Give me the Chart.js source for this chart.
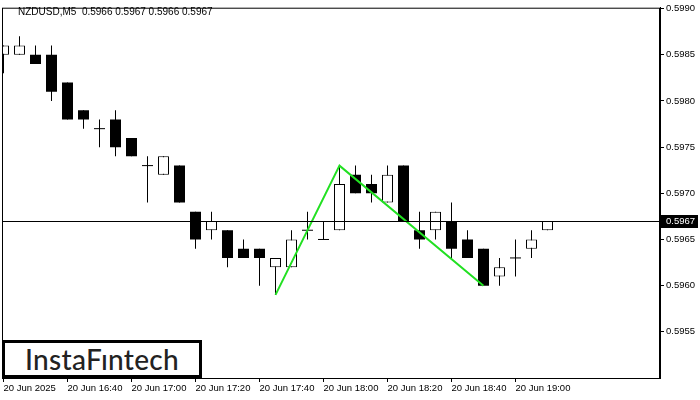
<!DOCTYPE html>
<html>
<head>
<meta charset="utf-8">
<script src="https://cdn.jsdelivr.net/npm/chart.js@4.4.1/dist/chart.umd.min.js"></script>
<style>
  body { margin: 0; background: #fff; }
  #wrap { position: relative; width: 700px; height: 400px; }
  #head { position: absolute; left: 18px; top: 6px; font: 10px "Liberation Sans", Arial, sans-serif; color: #000; white-space: pre; }
  #logo { position: absolute; left: 2px; top: 340px; width: 200px; height: 38px; box-sizing: border-box;
          border: 3px solid #000; background: #fff; display: flex; align-items: center; justify-content: center;
          font: 500 28px Lato, "Noto Sans", sans-serif; color: #222; letter-spacing: 0.3px; }
</style>
</head>
<body>
<div id="wrap">
  <canvas id="chart" width="700" height="400"></canvas>
  <div id="head">NZDUSD,M5  0.5966 0.5967 0.5966 0.5967</div>
  <div id="logo">InstaFıntech</div>
</div>
<script>
// M5 candles, one per 5 minutes starting 20 Jun 16:20
const opens  = [0.5985, 0.5985, 0.5985, 0.5985, 0.5982, 0.5979, 0.5977, 0.5978, 0.5976, 0.5973,
                0.5972, 0.5973, 0.5968, 0.5966, 0.5966, 0.5964, 0.5964, 0.5962, 0.5962, 0.5966,
                0.5965, 0.5966, 0.5972, 0.5971, 0.5969, 0.5973, 0.5966, 0.5966, 0.5967, 0.5965,
                0.5964, 0.5961, 0.5963, 0.5964, 0.5966];
const highs  = [0.5986, 0.5987, 0.5986, 0.5986, 0.5982, 0.5979, 0.5978, 0.5979, 0.5976, 0.5974,
                0.5974, 0.5973, 0.5968, 0.5968, 0.5966, 0.5965, 0.5964, 0.5963, 0.5966, 0.5968,
                0.5967, 0.5973, 0.5973, 0.5972, 0.5973, 0.5973, 0.5968, 0.5968, 0.5969, 0.5966,
                0.5964, 0.5963, 0.5965, 0.5966, 0.5967];
const lows   = [0.5983, 0.5985, 0.5984, 0.5980, 0.5978, 0.5977, 0.5975, 0.5974, 0.5974, 0.5969,
                0.5972, 0.5969, 0.5964, 0.5965, 0.5962, 0.5963, 0.5960, 0.5959, 0.5962, 0.5965,
                0.5965, 0.5966, 0.5970, 0.5969, 0.5969, 0.5967, 0.5964, 0.5965, 0.5963, 0.5963,
                0.5960, 0.5960, 0.5961, 0.5963, 0.5966];
const closes = [0.5986, 0.5986, 0.5984, 0.5981, 0.5978, 0.5978, 0.5977, 0.5975, 0.5974, 0.5973,
                0.5974, 0.5969, 0.5965, 0.5967, 0.5963, 0.5963, 0.5963, 0.5963, 0.5965, 0.5966,
                0.5965, 0.5971, 0.5970, 0.5970, 0.5972, 0.5967, 0.5965, 0.5968, 0.5964, 0.5963,
                0.5960, 0.5962, 0.5963, 0.5965, 0.5967];

// double top pattern line (bar index, price)
const patternIdx = [17, 21, 30];
const patternPrice = [0.5959, 0.5973, 0.5960];

const tickIdx = [0, 4, 8, 12, 16, 20, 24, 28, 32];
const tickLabels = ["20 Jun 2025", "20 Jun 16:40", "20 Jun 17:00", "20 Jun 17:20", "20 Jun 17:40",
                    "20 Jun 18:00", "20 Jun 18:20", "20 Jun 18:40", "20 Jun 19:00"];
const priceTicks = [0.5955, 0.5960, 0.5965, 0.5970, 0.5975, 0.5980, 0.5985, 0.5990];
const lastPrice = 0.5967;

const wicks = [], upBodies = [], downBodies = [], dojis = [];
opens.forEach((o, i) => {
  const c = closes[i];
  wicks.push({ x: i, y: [lows[i], highs[i]] });
  if (c > o) upBodies.push({ x: i, y: [o, c] });
  else if (c < o) downBodies.push({ x: i, y: [c, o] });
  else dojis.push({ x: i, y: c });
});

const font = { family: "'Liberation Sans', Arial, sans-serif", size: 9.5 };

const framePlugin = {
  id: "frame",
  afterDraw(chart) {
    const { ctx, chartArea: a, scales } = chart;
    ctx.save();
    ctx.strokeStyle = "#000";
    ctx.lineWidth = 1;
    ctx.strokeRect(a.left + 0.5, a.top + 0.5, a.right - a.left - 1, a.bottom - a.top);
    // current price line
    const y = Math.round(scales.y.getPixelForValue(lastPrice)) + 0.5;
    ctx.beginPath();
    ctx.moveTo(a.left, y);
    ctx.lineTo(a.right, y);
    ctx.stroke();
    // price tag on the axis
    ctx.fillStyle = "#000";
    ctx.fillRect(a.right + 1, y - 6.5, 37, 13);
    ctx.fillStyle = "#fff";
    ctx.font = "9.5px 'Liberation Sans', Arial, sans-serif";
    ctx.textBaseline = "middle";
    ctx.fillText(lastPrice.toFixed(4), a.right + 6, y);
    ctx.restore();
  }
};

new Chart(document.getElementById("chart"), {
  type: "bar",
  plugins: [framePlugin],
  data: {
    datasets: [
      { data: wicks, backgroundColor: "#000", barThickness: 1, grouped: false, inflateAmount: 0, order: 4 },
      { data: upBodies, backgroundColor: "#fff", borderColor: "#000", borderWidth: 1, borderSkipped: false,
        barThickness: 11, grouped: false, inflateAmount: 0, order: 3 },
      { data: downBodies, backgroundColor: "#000", barThickness: 11, grouped: false, inflateAmount: 0, order: 3 },
      { type: "line", data: dojis, showLine: false, pointStyle: "line", pointRadius: 5.5,
        borderColor: "#000", borderWidth: 1, order: 2 },
      { type: "line", data: patternIdx.map((x, k) => ({ x: x, y: patternPrice[k] })),
        borderColor: "#22e022", borderWidth: 2, pointRadius: 0, order: 1 }
    ]
  },
  options: {
    responsive: false,
    animation: false,
    layout: { padding: { left: 2, top: 3, right: 0, bottom: 0 }, autoPadding: false },
    plugins: { legend: { display: false }, tooltip: { enabled: false } },
    scales: {
      x: {
        type: "linear",
        offset: false,
        min: -0.09375,
        max: 41.03125,
        afterBuildTicks: s => { s.ticks = tickIdx.map(v => ({ value: v })); },
        afterFit: s => { s.height = 22; },
        grid: { drawOnChartArea: false, offset: false, tickLength: 4, color: "#000" },
        border: { color: "#000" },
        ticks: {
          autoSkip: false, maxRotation: 0, align: "start", padding: 1, labelOffset: 0,
          color: "#000", font: font,
          callback: v => tickLabels[tickIdx.indexOf(v)]
        }
      },
      y: {
        position: "right",
        min: 0.5950,
        max: 0.59901,
        afterBuildTicks: s => { s.ticks = priceTicks.map(v => ({ value: v })); },
        afterFit: s => { s.width = 40; },
        grid: { drawOnChartArea: false, tickLength: 4, color: "#000" },
        border: { color: "#000" },
        ticks: { padding: 2, color: "#000", font: font, callback: v => v.toFixed(4) }
      }
    }
  }
});
</script>
</body>
</html>
